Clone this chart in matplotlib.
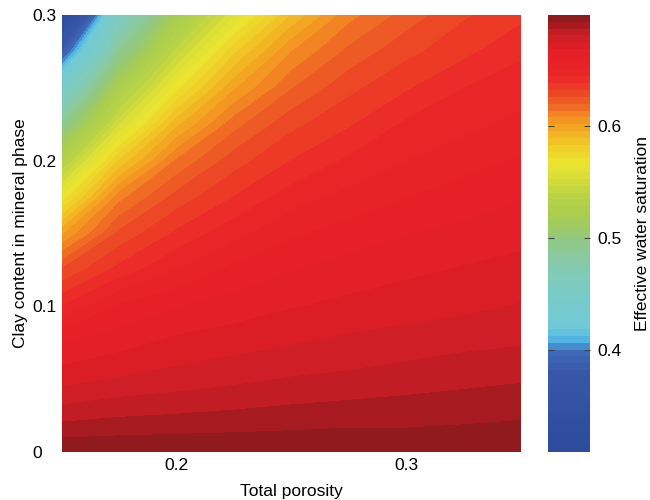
import numpy as np
import matplotlib
matplotlib.use("Agg")
import matplotlib.pyplot as plt
from matplotlib.colors import LinearSegmentedColormap

plt.rcParams['font.family'] = ['Liberation Sans', 'DejaVu Sans']
plt.rcParams['font.size'] = 12.5

porosity = [0.15, 0.175, 0.2, 0.225, 0.25, 0.275, 0.3, 0.325, 0.35]
clay = [0.0, 0.025, 0.05, 0.075, 0.1, 0.125, 0.15, 0.175, 0.2, 0.225, 0.25, 0.275, 0.3]

# effective water saturation, one row per clay content, one column per porosity
sw = [
    [0.698, 0.698, 0.698, 0.698, 0.698, 0.698, 0.698, 0.698, 0.698],
    [0.684, 0.686, 0.687, 0.688, 0.689, 0.690, 0.690, 0.691, 0.692],
    [0.672, 0.675, 0.677, 0.679, 0.681, 0.682, 0.684, 0.685, 0.686],
    [0.662, 0.666, 0.670, 0.672, 0.674, 0.676, 0.677, 0.679, 0.680],
    [0.644, 0.657, 0.662, 0.665, 0.668, 0.670, 0.672, 0.673, 0.675],
    [0.626, 0.640, 0.650, 0.658, 0.662, 0.665, 0.667, 0.669, 0.671],
    [0.600, 0.627, 0.639, 0.648, 0.655, 0.659, 0.662, 0.664, 0.666],
    [0.565, 0.611, 0.628, 0.638, 0.647, 0.652, 0.656, 0.659, 0.662],
    [0.530, 0.583, 0.614, 0.629, 0.638, 0.645, 0.650, 0.654, 0.657],
    [0.490, 0.551, 0.593, 0.617, 0.630, 0.637, 0.645, 0.648, 0.652],
    [0.445, 0.522, 0.568, 0.600, 0.619, 0.630, 0.637, 0.644, 0.647],
    [0.382, 0.490, 0.542, 0.581, 0.607, 0.621, 0.630, 0.636, 0.643],
    [0.310, 0.455, 0.517, 0.557, 0.589, 0.611, 0.622, 0.631, 0.636],
]

vmin, vmax = 0.309, 0.699
stops = [
    (0.309, '#2d4b9c'), (0.380, '#3857a8'), (0.398, '#3f6bb8'), (0.405, '#4aa0da'),
    (0.412, '#55bde6'), (0.420, '#70c9d6'), (0.450, '#7acbc8'), (0.480, '#88caa8'),
    (0.500, '#92c780'), (0.520, '#a8cd50'), (0.540, '#bcd444'), (0.555, '#d8de38'),
    (0.568, '#ece52e'), (0.582, '#f0cc28'), (0.594, '#f3b022'), (0.605, '#f39422'),
    (0.618, '#f06c24'), (0.630, '#ed4826'), (0.645, '#ea2628'), (0.665, '#e61f27'),
    (0.678, '#d41e26'), (0.688, '#b41c22'), (0.699, '#8a1a1d'),
]
cmap = LinearSegmentedColormap.from_list(
    'sat', [((v - vmin) / (vmax - vmin), c) for v, c in stops], N=256)

fig = plt.figure(figsize=(6.5, 5), dpi=100)
ax = fig.add_axes([0.0954, 0.096, 0.7061, 0.874])
cax = fig.add_axes([0.843, 0.096, 0.0646, 0.874])

levels = np.linspace(vmin, vmax, 65)
cs = ax.contourf(porosity, clay, np.array(sw), levels=levels, cmap=cmap,
                 vmin=vmin, vmax=vmax)
cs.set_edgecolor('face')

ax.set_xlim(0.15, 0.35)
ax.set_ylim(0, 0.3)
ax.set_xticks([0.2, 0.3])
ax.set_xticklabels(['0.2', '0.3'])
ax.set_yticks([0, 0.1, 0.2, 0.3])
ax.set_yticklabels(['0', '0.1', '0.2', '0.3'])
for s in ax.spines.values():
    s.set_visible(False)
ax.tick_params(axis='x', length=0, pad=4.5)
ax.tick_params(axis='y', length=0, pad=21.6)
for t in ax.get_yticklabels():
    t.set_horizontalalignment('left')
ax.set_xlabel('Total porosity', labelpad=8)
ax.set_ylabel('Clay content in mineral phase', labelpad=3)

cbar = fig.colorbar(cs, cax=cax, ticks=[0.4, 0.5, 0.6])
cbar.outline.set_visible(False)
cax.tick_params(direction='in', length=4, width=0.8, color='#444444',
                left=True, right=True, labelleft=False, labelright=True, pad=5)
cbar.set_ticklabels(['0.4', '0.5', '0.6'])
cbar.set_label('Effective water saturation', labelpad=10)

fig.savefig('out.png', dpi=100)
